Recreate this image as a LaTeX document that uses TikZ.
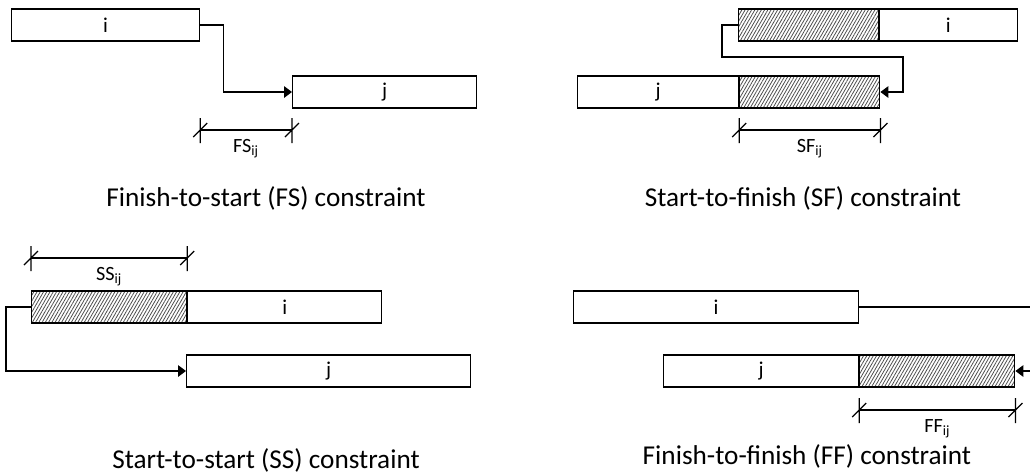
\documentclass[tikz,border=0pt]{standalone}
\usepackage{fontspec}
\setmainfont{Carlito}
\usetikzlibrary{arrows.meta, calc, patterns.meta}

\begin{document}
\begin{tikzpicture}[
    x=0.02cm, y=-0.02cm,
    bar/.style={draw, rectangle, line width=0.7pt, minimum height=0.64cm, inner sep=0pt, anchor=west, font=\fontsize{12}{14}\selectfont},
    lag/.style={bar, pattern={Lines[angle=60, distance=1.6pt, line width=0.45pt]}, pattern color=black!70},
    link/.style={-{Triangle[length=4.5pt, width=6.5pt]}, line width=0.7pt},
    dimline/.style={line width=0.7pt},
    lagtext/.style={below=1.5pt, font=\fontsize{11.5}{13}\selectfont},
    caption/.style={font=\fontsize{15.5}{18}\selectfont},
]

\clip (0,0) rectangle (1030,474);

% Finish-to-start
\node[bar, minimum width=3.76cm] (FSi) at (11,25) {i};
\node[bar, minimum width=3.68cm] (FSj) at (292,92) {j};
\draw[link] (FSi.east) -- ++(23,0) |- (FSj.west);
\coordinate (fsa) at ($(FSi.east)+(0,105)$);
\coordinate (fsb) at ($(FSj.west)+(0,38)$);
\draw[dimline] (fsa) -- node[lagtext] {FS\textsubscript{ij}} (fsb);
\node[caption] (FScap) at (266,198) {Finish-to-start (FS) constraint};

% Start-to-finish
\node[lag, minimum width=2.80cm] (SFilag) at (738,25) {};
\node[bar, minimum width=2.76cm] (SFi) at (SFilag.east) {i};
\node[bar, minimum width=3.22cm] (SFj) at (577,92) {j};
\node[lag, minimum width=2.80cm] (SFjlag) at (SFj.east) {};
\draw[link] (SFilag.west) -- ++(-16,0) |- (903,57) |- (SFjlag.east);
\coordinate (sfa) at ($(SFjlag.west)+(0,38)$);
\coordinate (sfb) at ($(SFjlag.east)+(0,38)$);
\draw[dimline] (sfa) -- node[lagtext] {SF\textsubscript{ij}} (sfb);
\node[caption] (SFcap) at (803,198) {Start-to-finish (SF) constraint};

% Start-to-start
\node[lag, minimum width=3.10cm] (SSilag) at (31,307) {};
\node[bar, minimum width=3.88cm] (SSi) at (SSilag.east) {i};
\node[bar, minimum width=5.68cm] (SSj) at (186,371) {j};
\draw[link] (SSilag.west) -- ++(-25,0) |- (SSj.west);
\coordinate (ssa) at ($(SSilag.west)+(0,-49)$);
\coordinate (ssb) at ($(SSilag.east)+(0,-49)$);
\draw[dimline] (ssa) -- node[lagtext] {SS\textsubscript{ij}} (ssb);
\node[caption] (SScap) at (266,460) {Start-to-start (SS) constraint};

% Finish-to-finish
\node[bar, minimum width=5.70cm] (FFi) at (573,307) {i};
\node[bar, minimum width=3.90cm] (FFj) at (663,371) {j};
\node[lag, minimum width=3.10cm] (FFjlag) at (FFj.east) {};
\draw[link] (FFi.east) -- ++(182,0) |- (FFjlag.east);
\coordinate (ffa) at ($(FFjlag.west)+(0,39)$);
\coordinate (ffb) at ($(FFjlag.east)+(0,39)$);
\draw[dimline] (ffa) -- node[lagtext] {FF\textsubscript{ij}} (ffb);
\node[caption] (FFcap) at (807,456) {Finish-to-finish (FF) constraint};

% end ticks of the lag dimensions
\foreach \p in {fsa,fsb,sfa,sfb,ssa,ssb,ffa,ffb}
  \draw[dimline] ($(\p)+(0,-12)$) -- ($(\p)+(0,13)$)
                 ($(\p)+(-7,7)$) -- ($(\p)+(7,-7)$);

\end{tikzpicture}
\end{document}
